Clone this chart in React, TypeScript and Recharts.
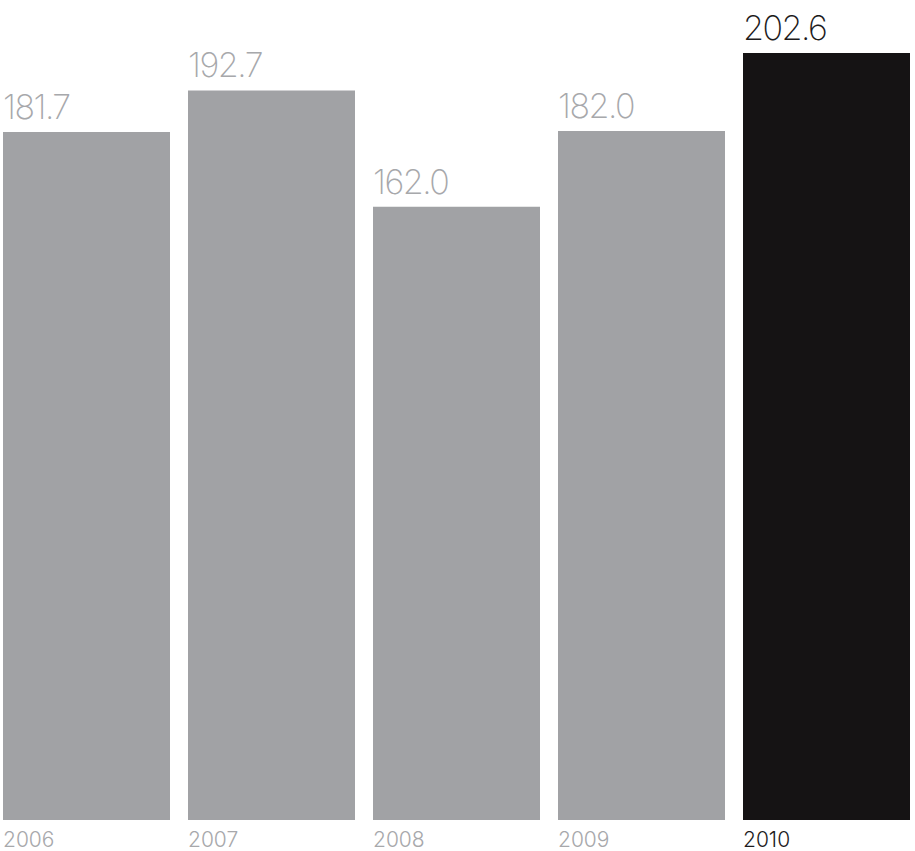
import { BarChart, Bar, XAxis, YAxis, Cell, LabelList } from 'recharts';

const years = ['2006', '2007', '2008', '2009', '2010'];
const values = [181.7, 192.7, 162.0, 182.0, 202.6];
const highlightYear = '2010';

const chartData = years.map((year, i) => ({ year, value: values[i] }));

const GRAY = '#a1a2a5';
const DARK = '#151314';
const FONT = 'Inter, Lato, sans-serif';
const BAR_SIZE = 167;

const YearTick = (props: any) => {
  const { x, y, payload } = props;
  const on = payload.value === highlightYear;
  return (
    <text
      x={x - BAR_SIZE / 2}
      y={y + 19}
      textAnchor="start"
      fontFamily={FONT}
      fontWeight={300}
      fontSize={21}
      fill={on ? '#1d1b1c' : '#a7a8ab'}
    >
      {payload.value}
    </text>
  );
};

const ValueLabel = (props: any) => {
  const { x, y, value, index } = props;
  const on = years[index] === highlightYear;
  return (
    <text
      x={x}
      y={y - 13}
      textAnchor="start"
      fontFamily={FONT}
      fontWeight={200}
      fontSize={34}
      letterSpacing={-1.5}
      fill={on ? '#1d1b1c' : '#a7a8ab'}
    >
      {value.toFixed(1)}
    </text>
  );
};

export default function App() {
  return (
    <div style={{ position: 'absolute', left: 0, top: 0, background: '#fff' }}>
      <BarChart
        width={915}
        height={851}
        data={chartData}
        margin={{ top: 53, right: -4, left: -6, bottom: 0 }}
        barCategoryGap={9}
      >
        <XAxis
          dataKey="year"
          axisLine={false}
          tickLine={false}
          height={31}
          tick={<YearTick />}
          interval={0}
        />
        <YAxis hide domain={[0, 'dataMax']} />
        <Bar dataKey="value" barSize={BAR_SIZE} isAnimationActive={false}>
          {chartData.map((d) => (
            <Cell key={d.year} fill={d.year === highlightYear ? DARK : GRAY} />
          ))}
          <LabelList dataKey="value" content={<ValueLabel />} />
        </Bar>
      </BarChart>
    </div>
  );
}
